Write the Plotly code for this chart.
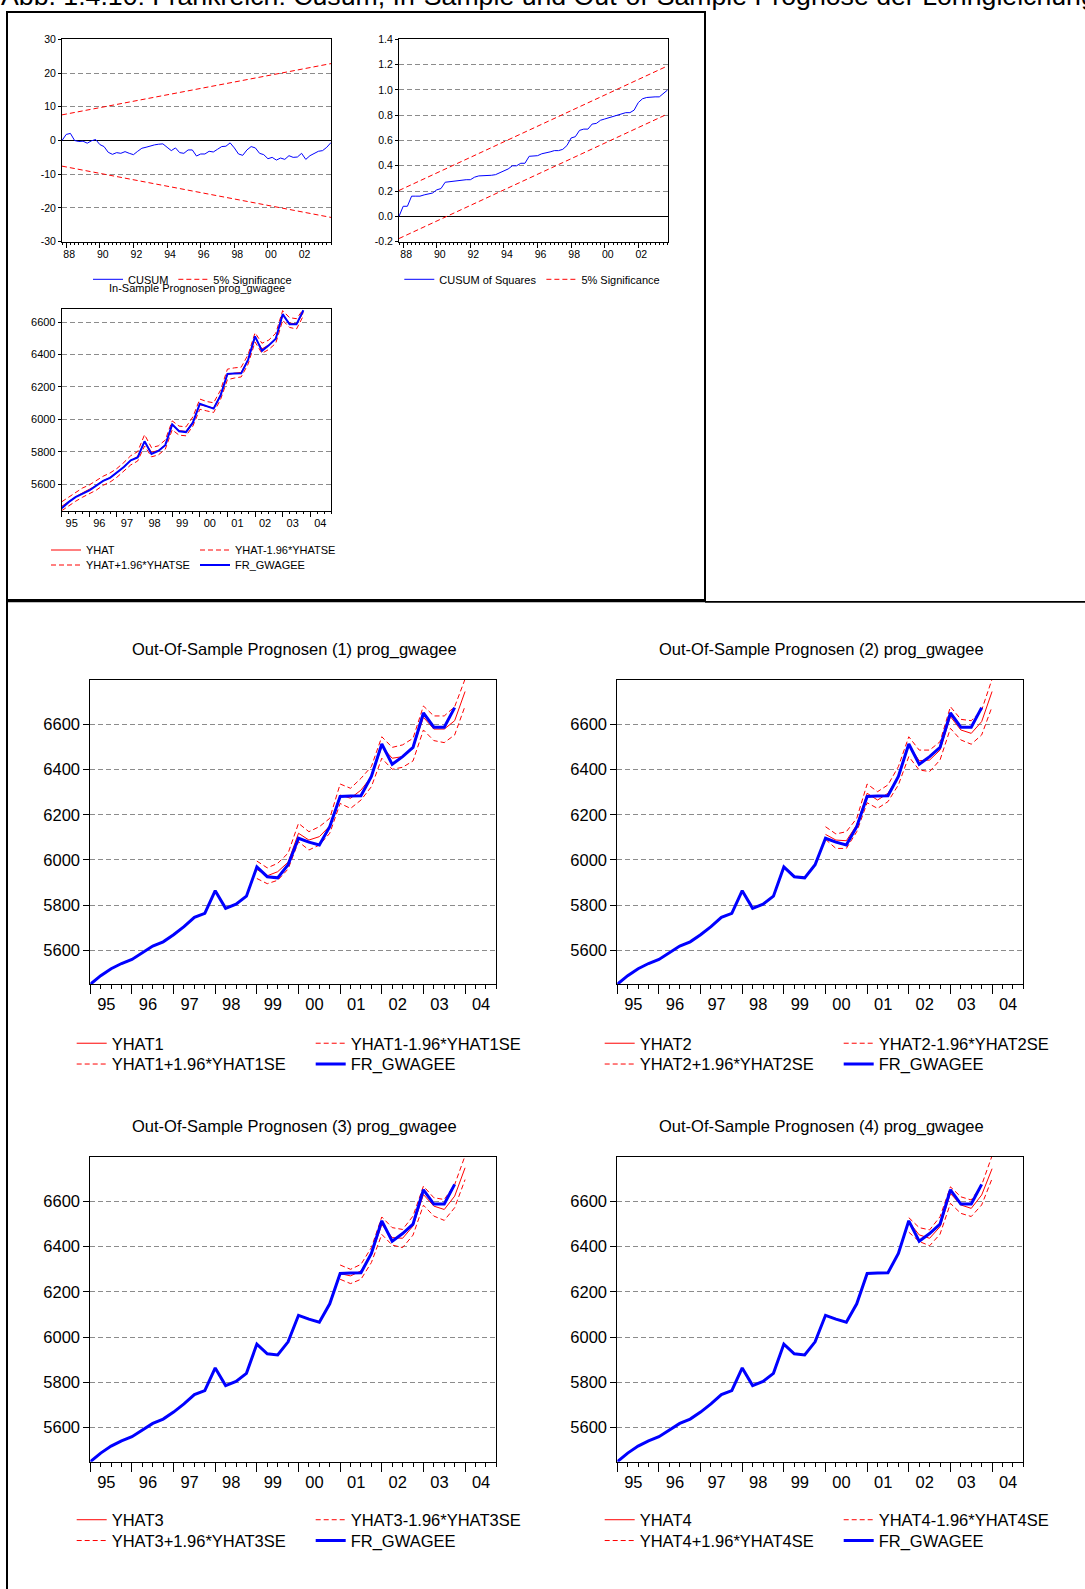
import plotly.graph_objects as go

W, H = 1085, 1589
FONT = "Arial, Liberation Sans, sans-serif"
RED = "#FF0000"
BLUE = "#0000FF"
GRID = "#8c8c8c"
DASH = "5px,3px"

# ---------------- data ----------------
cusum_start = "1987Q4"
cusum = [0.0, 1.8, 2.1, 0.0, -0.3, -0.2, -0.8, -0.1, 0.3, -1.2, -1.8, -3.5, -4.1,
         -3.6, -3.8, -3.3, -3.8, -4.2, -3.2, -2.3, -2.0, -1.6, -1.3, -1.1, -1.0,
         -2.0, -3.0, -2.2, -3.6, -3.8, -2.8, -2.8, -4.6, -4.0, -4.0, -3.2, -3.4,
         -2.6, -1.8, -1.7, -0.7, -2.2, -4.0, -4.4, -2.8, -1.8, -2.2, -3.8, -4.2,
         -5.4, -5.0, -5.8, -5.2, -5.6, -4.5, -5.0, -4.9, -3.8, -5.6, -4.5, -3.8,
         -3.2, -3.0, -2.0, -0.6]
cusum_bound_upper = [7.6, 22.8]
cusum_bound_lower = [-7.6, -22.8]

cusumsq_start = "1987Q4"
cusumsq = [0.0, 0.08, 0.08, 0.16, 0.16, 0.16, 0.17, 0.18, 0.185, 0.21, 0.22, 0.27,
           0.275, 0.28, 0.283, 0.285, 0.29, 0.29, 0.31, 0.32, 0.32, 0.322, 0.325,
           0.33, 0.345, 0.36, 0.375, 0.40, 0.40, 0.42, 0.42, 0.475, 0.48, 0.48,
           0.495, 0.50, 0.51, 0.52, 0.52, 0.53, 0.56, 0.62, 0.63, 0.68, 0.69, 0.69,
           0.73, 0.735, 0.76, 0.77, 0.78, 0.79, 0.795, 0.81, 0.82, 0.82, 0.84, 0.90,
           0.93, 0.94, 0.945, 0.945, 0.945, 0.97, 1.0]
cusumsq_bound_upper = [0.205, 1.19]
cusumsq_bound_lower = [-0.175, 0.81]

fr_start = "1995Q1"
fr_gwagee = [5450, 5488, 5519, 5542, 5560, 5590, 5619, 5638, 5669, 5705, 5746, 5764,
             5864, 5786, 5804, 5840, 5969, 5926, 5921, 5979, 6096, 6079, 6066, 6147,
             6281, 6283, 6284, 6369, 6513, 6423, 6457, 6498, 6650, 6587, 6587, 6674]

yhat_in = [5462, 5492, 5520, 5545, 5566, 5590, 5620, 5640, 5668, 5705, 5745, 5770,
           5862, 5796, 5808, 5842, 5962, 5930, 5925, 5985, 6090, 6080, 6070, 6150,
           6275, 6285, 6290, 6370, 6505, 6435, 6460, 6500, 6640, 6595, 6590, 6660]
yhat_in_upper = [5490, 5520, 5548, 5575, 5594, 5620, 5648, 5668, 5696, 5733, 5775, 5800,
                 5905, 5825, 5836, 5872, 5990, 5958, 5953, 6015, 6125, 6110, 6102, 6180,
                 6310, 6318, 6322, 6400, 6535, 6470, 6490, 6532, 6672, 6628, 6622, 6680]
yhat_in_lower = [5435, 5465, 5493, 5518, 5540, 5562, 5592, 5612, 5642, 5678, 5718, 5742,
                 5835, 5768, 5780, 5815, 5935, 5902, 5898, 5958, 6062, 6052, 6042, 6122,
                 6245, 6255, 6262, 6342, 6478, 6408, 6432, 6470, 6612, 6568, 6558, 6640]

yhat1_start = "1999Q1"
yhat1 = [5958, 5930, 5948, 5990, 6118, 6088, 6103, 6150, 6287, 6273, 6309, 6368,
         6501, 6450, 6457, 6494, 6631, 6579, 6579, 6616, 6745]
yhat1_upper = [5995, 5965, 5985, 6030, 6162, 6125, 6147, 6184, 6336, 6317, 6361, 6413,
               6545, 6498, 6509, 6538, 6681, 6637, 6637, 6678, 6800]
yhat1_lower = [5918, 5895, 5910, 5960, 6081, 6044, 6066, 6118, 6250, 6228, 6265, 6324,
               6450, 6401, 6410, 6438, 6575, 6528, 6519, 6553, 6681]

yhat2_start = "2000Q1"
yhat2 = [6113, 6088, 6085, 6155, 6295, 6265, 6295, 6368, 6508, 6439, 6442, 6486,
         6634, 6575, 6560, 6612, 6745]
yhat2_upper = [6147, 6115, 6125, 6184, 6336, 6302, 6332, 6413, 6545, 6486, 6486, 6523,
               6678, 6622, 6616, 6663, 6800]
yhat2_lower = [6091, 6051, 6051, 6125, 6253, 6228, 6258, 6332, 6457, 6398, 6391, 6442,
               6582, 6531, 6512, 6553, 6678]

yhat3_start = "2001Q1"
yhat3 = [6280, 6270, 6292, 6362, 6497, 6439, 6436, 6490, 6629, 6578, 6563, 6622, 6747]
yhat3_upper = [6318, 6299, 6321, 6395, 6530, 6483, 6475, 6534, 6666, 6615, 6607, 6673, 6800]
yhat3_lower = [6255, 6236, 6255, 6329, 6453, 6406, 6395, 6450, 6582, 6534, 6515, 6571, 6695]

yhat4_start = "2002Q1"
yhat4 = [6509, 6451, 6436, 6487, 6634, 6583, 6568, 6627, 6743]
yhat4_upper = [6527, 6483, 6473, 6531, 6663, 6619, 6605, 6671, 6800]
yhat4_lower = [6463, 6422, 6403, 6454, 6590, 6546, 6532, 6583, 6699]

year_labels_oos = ["95", "96", "97", "98", "99", "00", "01", "02", "03", "04"]
year_labels_cusum = ["88", "", "90", "", "92", "", "94", "", "96", "", "98", "", "00", "", "02", ""]


# ---------------- helpers ----------------
def quarters(start, n):
    y, q = map(int, start.split("Q"))
    out = []
    for _ in range(n):
        out.append(y + (q - 1) / 4)
        q += 1
        if q > 4:
            q, y = 1, y + 1
    return out


def PX(p):
    return p / W


def PY(p):
    return 1 - p / H


fig = go.Figure()
layout = {}

def add_axes(i, x0, x1, y0, y1, xr, yr, xtv, xtt, ytv, ytt, fs, shift, majlen, minlen, ylen,
             zero=False, standoff=0):
    xa = "xaxis" if i == 1 else f"xaxis{i}"
    ya = "yaxis" if i == 1 else f"yaxis{i}"
    xs = "x" if i == 1 else f"x{i}"
    ys = "y" if i == 1 else f"y{i}"
    qv = [xr[0] + k * 0.25 for k in range(int(round((xr[1] - xr[0]) / 0.25)) + 1)]
    layout[xa] = dict(domain=[PX(x0), PX(x1)], range=xr, anchor=ys, tickmode="array",
                      tickvals=xtv, ticktext=xtt, ticks="outside", ticklen=majlen,
                      tickwidth=1, tickcolor="black", ticklabelshift=int(round(shift)),
                      ticklabelstandoff=standoff,
                      minor=dict(tickmode="array", tickvals=qv, ticks="outside", ticklen=minlen,
                                 tickwidth=1, tickcolor="black", showgrid=False),
                      showgrid=False, zeroline=False, showline=True, linecolor="black",
                      linewidth=1, mirror=True, tickfont=dict(size=fs, color="black", family=FONT),
                      fixedrange=True, automargin=False)
    layout[ya] = dict(domain=[PY(y1), PY(y0)], range=yr, anchor=xs, tickmode="array",
                      tickvals=ytv, ticktext=ytt, ticks="outside", ticklen=ylen, tickwidth=1,
                      tickcolor="black", showgrid=True, gridcolor=GRID, griddash=DASH,
                      gridwidth=1, zeroline=zero, zerolinecolor="black", zerolinewidth=1.3,
                      showline=True, linecolor="black", linewidth=1, mirror=True,
                      tickfont=dict(size=fs, color="black", family=FONT), fixedrange=True,
                      automargin=False)
    return xs, ys


# ---- CUSUM ----
xs, ys = add_axes(1, 62, 331, 39.3, 241.7, [1987.75, 2003.75], [-30, 30],
                  list(range(1988, 2004)), year_labels_cusum,
                  [-30, -20, -10, 0, 10, 20, 30], ["-30", "-20", "-10", "0", "10", "20", "30"],
                  10.5, 3, 5, 2.5, 3, zero=True, standoff=-2)
cx = quarters(cusum_start, len(cusum))
fig.add_trace(go.Scatter(x=cx, y=cusum, mode="lines", name="CUSUM", line=dict(color=BLUE, width=1),
                         xaxis=xs, yaxis=ys, legend="legend"))
fig.add_trace(go.Scatter(x=[cx[0], cx[-1]], y=cusum_bound_upper, mode="lines", name="5% Significance",
                         line=dict(color=RED, width=1, dash=DASH), xaxis=xs, yaxis=ys, legend="legend"))
fig.add_trace(go.Scatter(x=[cx[0], cx[-1]], y=cusum_bound_lower, mode="lines", name="5% Significance",
                         line=dict(color=RED, width=1, dash=DASH), xaxis=xs, yaxis=ys, showlegend=False))

# ---- CUSUM of squares ----
sq_ticks = [-0.2, 0.0, 0.2, 0.4, 0.6, 0.8, 1.0, 1.2, 1.4]
xs, ys = add_axes(2, 399, 667.7, 39.3, 241.7, [1987.75, 2003.75], [-0.2, 1.4],
                  list(range(1988, 2004)), year_labels_cusum,
                  sq_ticks, [f"{v:.1f}" for v in sq_ticks],
                  10.5, 3, 5, 2.5, 3, zero=True, standoff=-2)
sx = quarters(cusumsq_start, len(cusumsq))
fig.add_trace(go.Scatter(x=sx, y=cusumsq, mode="lines", name="CUSUM of Squares",
                         line=dict(color=BLUE, width=1), xaxis=xs, yaxis=ys, legend="legend2"))
fig.add_trace(go.Scatter(x=[sx[0], sx[-1]], y=cusumsq_bound_upper, mode="lines", name="5% Significance",
                         line=dict(color=RED, width=1, dash=DASH), xaxis=xs, yaxis=ys, legend="legend2"))
fig.add_trace(go.Scatter(x=[sx[0], sx[-1]], y=cusumsq_bound_lower, mode="lines", name="5% Significance",
                         line=dict(color=RED, width=1, dash=DASH), xaxis=xs, yaxis=ys, showlegend=False))

# ---- In-sample ----
wage_ticks = [5600, 5800, 6000, 6200, 6400, 6600]
fx = quarters(fr_start, len(fr_gwagee))
xs, ys = add_axes(3, 61.7, 331, 309.3, 510.7, [1995.0, 2004.75], [min(yhat_in_lower), max(yhat_in_upper)],
                  list(range(1995, 2005)), year_labels_oos, wage_ticks, [str(v) for v in wage_ticks],
                  11, 10, 5, 2.5, 3, standoff=-3)
fig.add_trace(go.Scatter(x=fx, y=yhat_in, mode="lines", name="YHAT", line=dict(color=RED, width=1),
                         xaxis=xs, yaxis=ys, legend="legend3"))
fig.add_trace(go.Scatter(x=fx, y=yhat_in_lower, mode="lines", name="YHAT-1.96*YHATSE",
                         line=dict(color=RED, width=1, dash=DASH), xaxis=xs, yaxis=ys, legend="legend3"))
fig.add_trace(go.Scatter(x=fx, y=yhat_in_upper, mode="lines", name="YHAT+1.96*YHATSE",
                         line=dict(color=RED, width=1, dash=DASH), xaxis=xs, yaxis=ys, legend="legend4"))
fig.add_trace(go.Scatter(x=fx, y=fr_gwagee, mode="lines", name="FR_GWAGEE",
                         line=dict(color=BLUE, width=2), xaxis=xs, yaxis=ys, legend="legend4"))

# ---- Out-of-sample ----
oos = [
    (1, yhat1_start, yhat1, yhat1_upper, yhat1_lower, 90.3, 496.3, 680, 984.3),
    (2, yhat2_start, yhat2, yhat2_upper, yhat2_lower, 617.3, 1023.3, 680, 984.3),
    (3, yhat3_start, yhat3, yhat3_upper, yhat3_lower, 90.3, 496.3, 1156.7, 1461.7),
    (4, yhat4_start, yhat4, yhat4_upper, yhat4_lower, 617.3, 1023.3, 1156.7, 1461.7),
]
for k, st, yh, up, lo, x0, x1, y0, y1 in oos:
    ax = 3 + k
    xs, ys = add_axes(ax, x0, x1, y0, y1, [1995.0, 2004.75], [fr_gwagee[0], 6796],
                      list(range(1995, 2005)), year_labels_oos, wage_ticks, [str(v) for v in wage_ticks],
                      16.5, 16, 9, 4, 6, standoff=-4)
    hx = quarters(st, len(yh))
    la, lb = f"legend{3 + 2 * k}", f"legend{4 + 2 * k}"
    fig.add_trace(go.Scatter(x=hx, y=yh, mode="lines", name=f"YHAT{k}", line=dict(color=RED, width=1),
                             xaxis=xs, yaxis=ys, legend=la))
    fig.add_trace(go.Scatter(x=hx, y=lo, mode="lines", name=f"YHAT{k}-1.96*YHAT{k}SE",
                             line=dict(color=RED, width=1, dash=DASH), xaxis=xs, yaxis=ys, legend=la))
    fig.add_trace(go.Scatter(x=hx, y=up, mode="lines", name=f"YHAT{k}+1.96*YHAT{k}SE",
                             line=dict(color=RED, width=1, dash=DASH), xaxis=xs, yaxis=ys, legend=lb))
    fig.add_trace(go.Scatter(x=fx, y=fr_gwagee, mode="lines", name="FR_GWAGEE",
                             line=dict(color=BLUE, width=3), xaxis=xs, yaxis=ys, legend=lb))

# ---------------- legends ----------------
def legend_cfg(text_x, row_y, spacing, fs):
    cfg = dict(orientation="h", x=PX(text_x - 40), xanchor="left", y=PY(row_y), yanchor="middle",
               bgcolor="rgba(0,0,0,0)", borderwidth=0,
               font=dict(size=fs, color="black", family=FONT), itemwidth=30,
               traceorder="normal", itemclick=False, itemdoubleclick=False)
    if spacing:
        cfg.update(entrywidth=spacing - 45, entrywidthmode="pixels")
    return cfg

layout["legend"] = legend_cfg(128, 279.3, None, 11)
layout["legend2"] = legend_cfg(439.3, 279.3, None, 11)
layout["legend3"] = legend_cfg(86, 550, 149, 11)
layout["legend4"] = legend_cfg(86, 565, 149, 11)
leg_pos = {1: (111.7, 1043.5, 239), 2: (639.7, 1043.5, 239), 3: (111.7, 1520, 239), 4: (639.7, 1520, 239)}
for k, (tx, ry, sp) in leg_pos.items():
    layout[f"legend{3 + 2 * k}"] = legend_cfg(tx, ry, sp, 16.5)
    layout[f"legend{4 + 2 * k}"] = legend_cfg(tx, ry + 20.8, sp, 16.5)

# ---------------- annotations ----------------
ann = []
def text(t, x, y, fs, xanchor="center"):
    ann.append(dict(text=t, x=PX(x), y=PY(y), xref="paper", yref="paper", showarrow=False,
                    xanchor=xanchor, yanchor="middle", font=dict(size=fs, color="black", family=FONT)))

text("Abb. 1.4.10: Frankreich: Cusum, In-Sample und Out-of-Sample Prognose der Lohngleichung",
     -1, -4, 26.7, xanchor="left")
text("In-Sample Prognosen prog_gwagee", 197, 288.5, 11)
text("Out-Of-Sample Prognosen (1) prog_gwagee", 294, 649.5, 16.5)
text("Out-Of-Sample Prognosen (2) prog_gwagee", 821, 649.5, 16.5)
text("Out-Of-Sample Prognosen (3) prog_gwagee", 294, 1126.5, 16.5)
text("Out-Of-Sample Prognosen (4) prog_gwagee", 821, 1126.5, 16.5)

# ---------------- document frame ----------------
shapes = []
def seg(x0, y0, x1, y1, w):
    shapes.append(dict(type="line", xref="paper", yref="paper", x0=PX(x0), y0=PY(y0),
                       x1=PX(x1), y1=PY(y1), line=dict(color="black", width=w)))

seg(7, 12, 705, 12, 2)
seg(7, 11, 7, 1589, 2)
seg(705, 11, 705, 601, 2)
seg(6, 600.6, 705, 600.6, 3.3)
seg(705, 601.8, 1085, 601.8, 1.8)

layout.update(dict(width=W, height=H,
                   margin=dict(l=0, r=0, t=0, b=0, pad=0, autoexpand=False),
                   paper_bgcolor="white", plot_bgcolor="white", showlegend=True,
                   annotations=ann, shapes=shapes, font=dict(family=FONT, color="black")))
fig.update_layout(**layout)
fig.write_html("out.html", config={"displayModeBar": False},
               post_script="document.body.style.margin='0';document.body.style.overflow='hidden';")
